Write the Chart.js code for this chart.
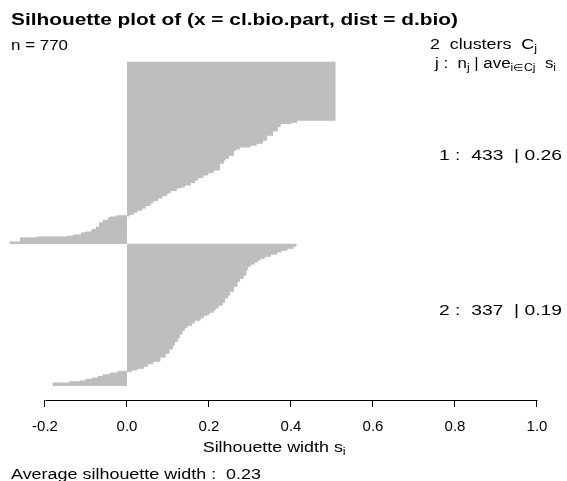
<!DOCTYPE html>
<html lang="en">
<head>
<meta charset="UTF-8">
<title>Silhouette plot</title>
<script src="https://cdn.jsdelivr.net/npm/chart.js"></script>
<style>
  html, body { margin: 0; padding: 0; background: #fff; }
</style>
</head>
<body>
<canvas id="grafico" width="567" height="481"></canvas>
<script>
// silhouette widths, as runs of (value, how many bars), sorted inside each cluster
const cluster1Values = [0.507, 0.414, 0.400, 0.373, 0.366, 0.355, 0.340, 0.330, 0.315, 0.300, 0.275, 0.265,
  0.260, 0.248, 0.240, 0.235, 0.225, 0.210, 0.197, 0.185, 0.172, 0.165, 0.155, 0.140, 0.130, 0.120,
  0.105, 0.097, 0.085, 0.075, 0.063, 0.056, 0.044, 0.036, 0.024, 0.015, 0.005, -0.025, -0.040, -0.045,
  -0.058, -0.066, -0.075, -0.085, -0.100, -0.110, -0.130, -0.146, -0.220, -0.260, -0.285];
const cluster1Counts = [138, 5, 3, 8, 10, 10, 12, 7, 5, 4, 5, 3,
  12, 7, 4, 8, 16, 6, 6, 6, 6, 6, 6, 5, 2, 6,
  6, 6, 6, 6, 6, 6, 6, 5, 5, 5, 4, 3, 2, 6,
  6, 10, 6, 6, 2, 5, 3, 2, 2, 10, 3];
const cluster2Values = [0.412, 0.405, 0.390, 0.375, 0.365, 0.350, 0.335, 0.325, 0.318, 0.310, 0.300, 0.293,
  0.290, 0.283, 0.275, 0.268, 0.260, 0.250, 0.245, 0.238, 0.232, 0.222, 0.215, 0.210, 0.200, 0.195,
  0.186, 0.178, 0.165, 0.158, 0.146, 0.140, 0.134, 0.127, 0.122, 0.115, 0.110, 0.102, 0.093, 0.080,
  0.063, 0.050, 0.040, 0.024, 0.010, -0.022, -0.040, -0.058, -0.070, -0.083, -0.100, -0.115, -0.140, -0.180];
const cluster2Counts = [4, 5, 5, 4, 5, 5, 5, 4, 5, 5, 5, 9,
  12, 8, 7, 12, 12, 9, 7, 10, 7, 7, 5, 5, 5, 2,
  6, 6, 6, 6, 6, 6, 9, 10, 8, 9, 9, 10, 9, 10,
  6, 6, 5, 4, 4, 4, 4, 4, 4, 3, 4, 2, 3, 5];
const clusterIds = [1, 2];
const clusterSizes = [433, 337];
const clusterAverages = [0.26, 0.19];
const averageWidth = 0.23;
const gapBars = 2;
const xTicks = [-0.2, 0.0, 0.2, 0.4, 0.6, 0.8, 1.0];

const FONT = '"Liberation Sans", Arial, Helvetica, sans-serif';

function expand(values, counts) {
    const out = [];
    values.forEach((v, i) => { for (let k = 0; k < counts[i]; k++) out.push(v); });
    return out;
}

const s1 = expand(cluster1Values, cluster1Counts);
const s2 = expand(cluster2Values, cluster2Counts);
const points = [];
s1.forEach((v, i) => points.push({ x: v, y: i + 0.5 }));
s2.forEach((v, i) => points.push({ x: v, y: s1.length + gapBars + i + 0.5 }));

// text pieces drawn one after another, squeezed/stretched to the width seen in the picture
function drawText(ctx, parts, x, y, width) {
    let natural = 0;
    for (const p of parts) {
        ctx.font = (p.bold ? 'bold ' : '') + p.size + 'px ' + FONT;
        natural += ctx.measureText(p.text).width;
    }
    const sx = width ? width / natural : 1;
    ctx.save();
    ctx.translate(x, y);
    ctx.scale(sx, 1);
    let cx = 0;
    for (const p of parts) {
        ctx.font = (p.bold ? 'bold ' : '') + p.size + 'px ' + FONT;
        ctx.fillText(p.text, cx, p.dy || 0);
        cx += ctx.measureText(p.text).width;
    }
    ctx.restore();
}

const silPlugin = {
    id: 'silText',
    afterDraw(chart) {
        const ctx = chart.ctx;
        const xs = chart.scales.x;
        ctx.save();
        ctx.fillStyle = '#000';
        ctx.strokeStyle = '#000';
        ctx.textAlign = 'left';
        ctx.textBaseline = 'alphabetic';

        // axis line only between first and last tick, like R
        const yb = Math.round(chart.chartArea.bottom) + 0.5;
        ctx.lineWidth = 1;
        ctx.beginPath();
        ctx.moveTo(Math.round(xs.getPixelForValue(xTicks[0])) + 0.5, yb);
        ctx.lineTo(Math.round(xs.getPixelForValue(xTicks[xTicks.length - 1])) + 0.5, yb);
        ctx.stroke();

        drawText(ctx, [{ text: 'Silhouette plot of (x = cl.bio.part, dist = d.bio)', size: 16, bold: true }], 11, 25.3, 447);
        const n = clusterSizes.reduce((a, b) => a + b, 0);
        drawText(ctx, [{ text: 'n = ' + n, size: 14 }], 11, 49.5, 57);

        drawText(ctx, [{ text: clusterIds.length + '  clusters  C', size: 14 }, { text: 'j', size: 10, dy: 3 }], 430, 49, 107);
        drawText(ctx, [
            { text: 'j :  n', size: 14 }, { text: 'j', size: 10, dy: 3 },
            { text: ' | ave', size: 14 }, { text: 'i\u2208Cj', size: 10, dy: 3 },
            { text: '  s', size: 14 }, { text: 'i', size: 10, dy: 3 }
        ], 435, 67.5, 121);

        const rowY = [160, 315];
        clusterIds.forEach((id, k) => {
            drawText(ctx, [{ text: id + ' :  ' + clusterSizes[k] + '  | ' + clusterAverages[k].toFixed(2), size: 14 }], 439, rowY[k], 123);
        });

        drawText(ctx, [{ text: 'Silhouette width s', size: 14 }, { text: 'i', size: 10, dy: 3 }], 202.7, 451.7, 143);
        drawText(ctx, [{ text: 'Average silhouette width :  ' + averageWidth.toFixed(2), size: 14 }], 11, 479, 250);
        ctx.restore();
    }
};

const ctx = document.getElementById('grafico').getContext('2d');
new Chart(ctx, {
    type: 'bar',
    data: {
        datasets: [{
            data: points,
            backgroundColor: '#bebebe',
            borderWidth: 0,
            barThickness: 1
        }]
    },
    options: {
        indexAxis: 'y',
        responsive: false,
        animation: false,
        layout: { padding: { left: 8, right: 8, top: 48, bottom: 41 } },
        plugins: {
            legend: { display: false },
            tooltip: { enabled: false }
        },
        scales: {
            y: {
                type: 'linear',
                display: false,
                offset: false,
                reverse: true,
                min: -34.18,
                max: 807.1
            },
            x: {
                type: 'linear',
                min: -0.29024,
                max: 1.05366,
                offset: false,
                afterBuildTicks: (scale) => { scale.ticks = xTicks.map(v => ({ value: v })); },
                afterFit: (scale) => { scale.height = 40; },
                border: { display: false },
                grid: { drawOnChartArea: false, drawTicks: true, tickLength: 7, color: '#000', lineWidth: 1 },
                ticks: {
                    padding: 11,
                    color: '#000',
                    font: { size: 15, family: FONT },
                    maxRotation: 0,
                    autoSkip: false,
                    callback: (v) => Number(v).toFixed(1)
                }
            }
        }
    },
    plugins: [silPlugin]
});
</script>
</body>
</html>
